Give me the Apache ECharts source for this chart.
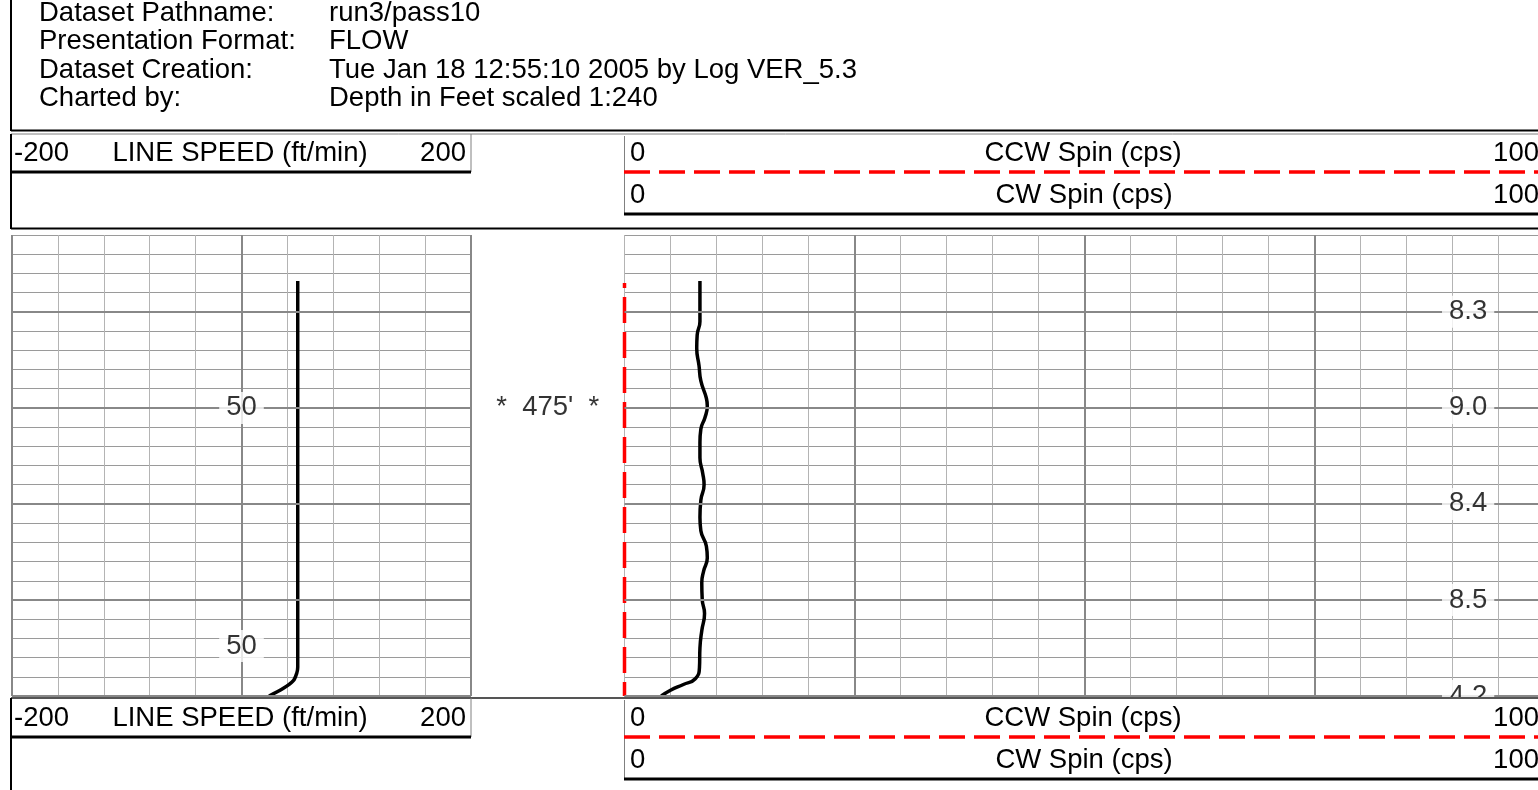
<!DOCTYPE html>
<html><head><meta charset="utf-8">
<script src="https://cdn.jsdelivr.net/npm/echarts@6/dist/echarts.min.js"></script>
<style>html,body{margin:0;padding:0;background:#fff;overflow:hidden;width:1538px;height:790px}#c{width:1560px;height:790px}</style>
</head><body><div id="c"></div>
<script>
// ---------- data ----------
const headerKeys = ['Dataset Pathname:', 'Presentation Format:', 'Dataset Creation:', 'Charted by:'];
const headerValues = ['run3/pass10', 'FLOW', 'Tue Jan 18 12:55:10 2005 by Log VER_5.3', 'Depth in Feet scaled 1:240'];
const lineSpeedTitle = 'LINE SPEED (ft/min)';
const ccwTitle = 'CCW Spin (cps)';
const cwTitle = 'CW Spin (cps)';
const lineSpeedRange = [-200, 200];
const spinRange = [0, 100];
const depthRange = [466, 490];
const majorDepths = [470, 475, 480, 485, 490];
const depthMarks = [475];

const lineSpeedDepth = [468.4, 488.5, 488.8, 489.2, 489.6, 490.0];
const lineSpeed      = [49,    49,    48.2,  45.2,  36.5,  24];

const cwSpinDepth = [468.4, 470.5, 471.2, 471.9, 472.8, 473.6, 474.5, 474.9, 475.5, 476.1,
                     476.8, 477.6, 478.4, 479.0, 479.8, 480.7, 481.4, 482.2, 482.8, 483.5,
                     484.1, 485.0, 485.7, 486.6, 487.5, 488.5, 489.1, 489.4, 489.7, 490.0];
const cwSpin      = [8.2, 8.2, 7.9, 7.85, 8.1, 8.3, 8.9, 9.0, 8.75, 8.3,
                     8.2, 8.2, 8.5, 8.65, 8.3, 8.2, 8.3, 8.9, 9.0, 8.6,
                     8.4, 8.45, 8.7, 8.4, 8.2, 8.15, 7.7, 6.4, 5.0, 4.0];

const ccwSpinDepth = [468.5, 490];
const ccwSpin      = [0, 0];

const spinLabelDepth = [470, 475, 480, 485, 490];
const spinLabelText  = ['8.3', '9.0', '8.4', '8.5', '4.2'];
const speedLabelDepth = [475, 487.4];
const speedLabelText  = ['50', '50'];

// ---------- layout / style ----------
const FONT = '"Liberation Sans", Arial, sans-serif';
const FS = 27.5;
const SPIN_LABEL_X = 91.7;   // position of the value annotations in the spin track
const SPEED_LABEL_X = 0;     // position of the value annotations in the line speed track
const GRID_TOP = 235, GRID_H = 461;
const W = 1560;

const chart = echarts.init(document.getElementById('c'), null, {renderer: 'canvas'});

function txt(text, x, y, align) {
  return {type: 'text', x: x, y: y, z: 100, silent: true,
    style: {text: text, fill: '#000', font: FS + 'px ' + FONT, fontSize: FS, fontFamily: FONT,
      align: align || 'left', verticalAlign: 'middle', textAlign: align || 'left', textVerticalAlign: 'middle'}};
}
function ln(x1, y1, x2, y2, color, w, dash) {
  const s = {stroke: color, lineWidth: w};
  if (dash) { s.lineDash = dash; }
  return {type: 'line', z: 100, silent: true, shape: {x1: x1, y1: y1, x2: x2, y2: y2}, style: s};
}

const graphics = [];
// top header block
headerKeys.forEach((k, i) => {
  graphics.push(txt(k, 39, 13 + i * 28.5));
  graphics.push(txt(headerValues[i], 329, 13 + i * 28.5));
});
graphics.push(ln(11, 0, 11, 131, '#000', 2));
graphics.push(ln(11, 130.5, W, 130.5, '#000', 2));
graphics.push(ln(11, 134, W, 134, '#808080', 1));
graphics.push(ln(11, 134, 11, 229, '#000', 2));
graphics.push(ln(11, 228.5, W, 228.5, '#000', 2));

function trackHeader(yTop, yRow1) {
  // left track box
  graphics.push(txt(String(lineSpeedRange[0]), 14, yRow1, 'left'));
  graphics.push(txt(lineSpeedTitle, 240, yRow1, 'center'));
  graphics.push(txt(String(lineSpeedRange[1]), 466, yRow1, 'right'));
  graphics.push(ln(471, yTop, 471, yRow1 + 19, '#808080', 1));
  graphics.push(ln(11, yRow1 + 19, 471, yRow1 + 19, '#000', 3));
  // right track box
  graphics.push(ln(624.5, yTop + 2, 624.5, yRow1 + 61, '#808080', 1));
  graphics.push(txt(String(spinRange[0]), 630, yRow1, 'left'));
  graphics.push(txt(ccwTitle, 1083, yRow1, 'center'));
  graphics.push(txt(String(spinRange[1]), 1539, yRow1, 'right'));
  graphics.push(ln(624, yRow1 + 19, W, yRow1 + 19, '#ff0000', 3.5, [26, 9]));
  graphics.push(txt(String(spinRange[0]), 630, yRow1 + 42, 'left'));
  graphics.push(txt(cwTitle, 1084, yRow1 + 42, 'center'));
  graphics.push(txt(String(spinRange[1]), 1539, yRow1 + 42, 'right'));
  graphics.push(ln(624, yRow1 + 61, W, yRow1 + 61, '#000', 3));
}
trackHeader(134, 153);
// bottom header block (covers anything drawn below the log grid)
graphics.push({type: 'rect', z: 99, silent: true, shape: {x: 0, y: 698, width: W, height: 92}, style: {fill: '#fff'}});
graphics.push(ln(11, 698, W, 698, '#555', 2));
graphics.push(ln(11, 698, 11, 790, '#000', 2));
trackHeader(698, 718);

const axisOff = {axisLine: {show: false}, axisTick: {show: false}, axisLabel: {show: false}};
const minorH = {show: true, lineStyle: {color: '#9a9a9a', width: 1}};
const minorV = {show: true, lineStyle: {color: '#b4b4b4', width: 1}};
const majorStyle = {color: '#888888', width: 2, type: 'solid'};

function markSeries(xi, xMajors) {
  return {
    type: 'line', xAxisIndex: xi, yAxisIndex: xi, data: [], z: 1, silent: true,
    markLine: {
      silent: true, symbol: ['none', 'none'], label: {show: false}, animation: false,
      lineStyle: majorStyle, emphasis: {disabled: true},
      data: majorDepths.map(d => ({yAxis: d})).concat(xMajors.map(v => ({xAxis: v})))
    }
  };
}
function labelSeries(xi, xPos, depths, texts) {
  return {
    type: 'scatter', xAxisIndex: xi, yAxisIndex: xi, z: 5, silent: true, symbolSize: 0,
    data: depths.map((d, i) => [xPos, d, texts[i]]),
    label: {show: true, position: 'inside', formatter: p => p.value[2], color: '#000',
      fontSize: FS, fontFamily: FONT, backgroundColor: '#fff', padding: [2, 7]}
  };
}

const option = {
  animation: false,
  backgroundColor: '#fff',
  grid: [
    {left: 12, top: GRID_TOP, width: 459, height: GRID_H},
    {left: 624.5, top: GRID_TOP, width: 920, height: GRID_H},
    {left: 471, top: GRID_TOP, width: 153.5, height: GRID_H}
  ],
  xAxis: [
    Object.assign({gridIndex: 0, type: 'value', min: lineSpeedRange[0], max: lineSpeedRange[1], interval: 40, splitLine: minorV}, axisOff),
    Object.assign({gridIndex: 1, type: 'value', min: spinRange[0], max: spinRange[1], interval: 5, splitLine: minorV}, axisOff),
    Object.assign({gridIndex: 2, type: 'value', min: 0, max: 1, splitLine: {show: false}}, axisOff)
  ],
  yAxis: [0, 1, 2].map(i => Object.assign({
    gridIndex: i, type: 'value', inverse: true, min: depthRange[0], max: depthRange[1], interval: 1,
    splitLine: i < 2 ? minorH : {show: false}
  }, axisOff)),
  series: [
    markSeries(0, [lineSpeedRange[0], 0, lineSpeedRange[1]]),
    markSeries(1, [25, 50, 75]),
    {
      name: 'LINE SPEED', type: 'line', xAxisIndex: 0, yAxisIndex: 0, z: 3,
      data: lineSpeedDepth.map((d, i) => [lineSpeed[i], d]),
      showSymbol: false, smooth: 0.3, lineStyle: {color: '#000', width: 3.5}
    },
    {
      name: 'CW Spin', type: 'line', xAxisIndex: 1, yAxisIndex: 1, z: 3,
      data: cwSpinDepth.map((d, i) => [cwSpin[i], d]),
      showSymbol: false, smooth: 0.5, lineStyle: {color: '#000', width: 3.5}
    },
    {
      name: 'CCW Spin', type: 'line', xAxisIndex: 1, yAxisIndex: 1, z: 3, clip: false,
      data: ccwSpinDepth.map((d, i) => [ccwSpin[i], d]),
      showSymbol: false, lineStyle: {color: '#ff0000', width: 3.5, type: [26, 9], dashOffset: 21}
    },
    labelSeries(0, SPEED_LABEL_X, speedLabelDepth, speedLabelText),
    labelSeries(1, SPIN_LABEL_X, spinLabelDepth, spinLabelText),
    {
      type: 'scatter', xAxisIndex: 2, yAxisIndex: 2, z: 5, silent: true, symbolSize: 0,
      data: depthMarks.map(d => [0.5, d]),
      label: {show: true, position: 'inside', formatter: p => "*  " + p.value[1] + "'  *",
        color: '#000', fontSize: FS, fontFamily: FONT}
    }
  ],
  graphic: {elements: graphics}
};
chart.setOption(option);
</script></body></html>
